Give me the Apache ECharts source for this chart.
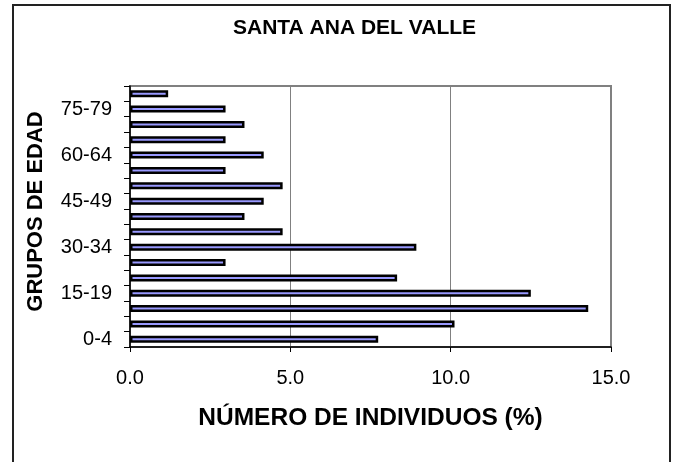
<!DOCTYPE html>
<html>
<head>
<meta charset="utf-8">
<script src="https://cdn.jsdelivr.net/npm/echarts@6/dist/echarts.min.js"></script>
<style>
  html, body { margin: 0; padding: 0; background: #fff; }
  #chart { width: 676px; height: 462px; }
</style>
</head>
<body>
<div id="chart"></div>
<script>
// grupos de edad, de abajo hacia arriba
const grupos = ["0-4", "5-9", "10-14", "15-19", "20-24", "25-29", "30-34", "35-39", "40-44",
  "45-49", "50-54", "55-59", "60-64", "65-69", "70-74", "75-79", "80-84"];
// porcentaje de individuos
const porcentajes = [7.74, 10.12, 14.29, 12.5, 8.33, 2.98, 8.93, 4.76, 3.57,
  4.17, 4.76, 2.98, 4.17, 2.98, 3.57, 2.98, 1.19];

const chart = echarts.init(document.getElementById("chart"));
const fuente = "Liberation Sans, Arial, sans-serif";

const option = {
  animation: false,
  title: {
    text: "SANTA ANA DEL VALLE",
    left: 228,
    top: 13,
    textStyle: { fontFamily: fuente, fontSize: 21, fontWeight: "bold", color: "#000" },
  },
  grid: {
    left: 130,
    right: 65,
    top: 86,
    bottom: 115,
    show: true,
    borderColor: "#808080",
    borderWidth: 2,
  },
  xAxis: {
    type: "value",
    min: 0,
    max: 15,
    interval: 5,
    name: "NÚMERO DE INDIVIDUOS (%)",
    nameLocation: "middle",
    nameGap: 59,
    nameTextStyle: { fontFamily: fuente, fontSize: 24.5, fontWeight: "bold", color: "#000" },
    axisLine: { show: true, lineStyle: { color: "#000", width: 1.5 } },
    axisTick: { show: true, length: 5, lineStyle: { color: "#000" } },
    axisLabel: {
      margin: 21,
      fontFamily: fuente,
      fontSize: 20,
      color: "#000",
      formatter: (v) => v.toFixed(1),
    },
    splitLine: { show: true, lineStyle: { color: "#808080", width: 1 } },
  },
  yAxis: {
    type: "category",
    data: grupos,
    name: "GRUPOS DE EDAD",
    nameLocation: "middle",
    nameGap: 83,
    nameRotate: 90,
    nameTextStyle: {
      fontFamily: fuente,
      fontSize: 22,
      fontWeight: "bold",
      color: "#000",
      padding: [0, 0, 0, 10],
    },
    axisLine: { show: true, lineStyle: { color: "#000", width: 1.5 } },
    axisTick: { show: true, interval: 0, length: 6, lineStyle: { color: "#000" } },
    axisLabel: { interval: 2, margin: 18, fontFamily: fuente, fontSize: 20, color: "#000" },
    splitLine: { show: false },
  },
  series: [
    {
      type: "bar",
      data: porcentajes,
      barWidth: 7,
      itemStyle: { color: "#9999FF", borderColor: "#000", borderWidth: 2.5 },
    },
  ],
  graphic: [
    {
      type: "rect",
      shape: { x: 13, y: 5, width: 657, height: 470 },
      style: { fill: null, stroke: "#222", lineWidth: 2 },
      silent: true,
    },
  ],
};

chart.setOption(option);
</script>
</body>
</html>
